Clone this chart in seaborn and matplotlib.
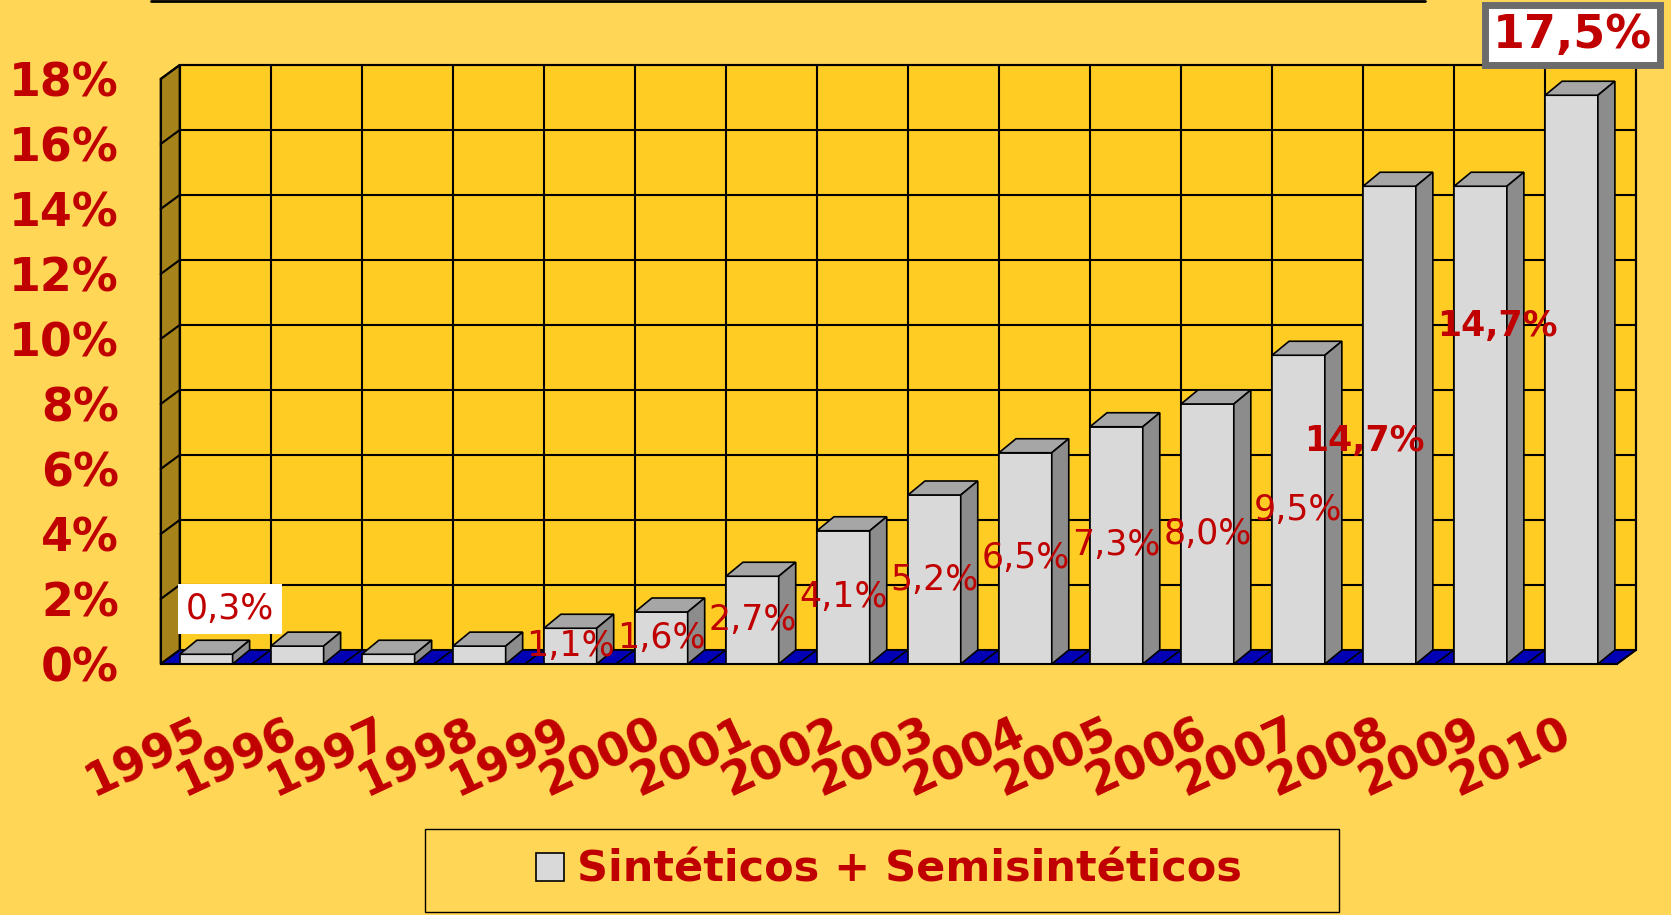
"""Share of synthetic + semi-synthetic, 1995-2010, drawn as an Excel-like 3D bar chart."""

import matplotlib
matplotlib.use("Agg")
import matplotlib.pyplot as plt
import matplotlib.transforms as mtransforms
from matplotlib.patches import Polygon, Rectangle
from matplotlib.lines import Line2D
import numpy as np
import pandas as pd
import seaborn as sns

# data
years = ["1995", "1996", "1997", "1998", "1999", "2000", "2001", "2002",
         "2003", "2004", "2005", "2006", "2007", "2008", "2009", "2010"]
share = [0.3, 0.55, 0.3, 0.55, 1.1, 1.6, 2.7, 4.1,
         5.2, 6.5, 7.3, 8.0, 9.5, 14.7, 14.7, 17.5]
series_name = "Sintéticos + Semisintéticos"
# data labels that are visible in the original (some were hidden)
shown_labels = ["1995", "1999", "2000", "2001", "2002", "2003", "2004",
                "2005", "2006", "2007", "2008", "2009", "2010"]
y_ticks = [0, 2, 4, 6, 8, 10, 12, 14, 16, 18]

# colours
BG = "#FFD655"
WALL = "#FFCC24"
SIDE_WALL = "#A6821A"
FLOOR = "#0000B4"
BAR_FRONT = "#D9D9D9"
BAR_TOP = "#A6A6A6"
BAR_SIDE = "#8C8C8C"
RED = "#C00000"

W_PX, H_PX = 1671, 915
DPI = 100

sns.set_style("white")
plt.rcParams["font.family"] = ["DejaVu Sans"]

df = pd.DataFrame({"year": years, "share": share})

fig = plt.figure(figsize=(W_PX / DPI, H_PX / DPI), dpi=DPI, facecolor=BG)
# front frame of the 3D box (pixels measured on the reference)
left, right, top, bottom = 160.7, 1617.0, 79.0, 664.0
ax = fig.add_axes([left / W_PX, 1 - bottom / H_PX,
                   (right - left) / W_PX, (bottom - top) / H_PX])
ax.set_facecolor("none")

sns.barplot(data=df, x="year", y="share", color=BAR_FRONT, edgecolor="black",
            linewidth=1.2, width=0.58, errorbar=None, label=series_name,
            saturation=1, ax=ax, zorder=2)
handles, labels = ax.get_legend_handles_labels()
if ax.get_legend() is not None:
    ax.get_legend().remove()

n = len(years)
ax.set_xlim(-0.5, n - 0.5)
ax.set_ylim(0, 18)

# pixel -> data conversion for the depth of the 3D box
px_x = (right - left) / n
px_y = (bottom - top) / 18
wdx, wdy = 19 / px_x, 14 / px_y     # walls
bdx, bdy = 17 / px_x, 14 / px_y     # bars

x0, x1 = -0.5, n - 0.5
# back wall
ax.add_patch(Polygon([(x0 + wdx, wdy), (x1 + wdx, wdy), (x1 + wdx, 18 + wdy),
                      (x0 + wdx, 18 + wdy)], closed=True, fc=WALL, ec="black",
                     lw=1.5, clip_on=False, zorder=0.1))
# left side wall
ax.add_patch(Polygon([(x0, 0), (x0 + wdx, wdy), (x0 + wdx, 18 + wdy), (x0, 18)],
                     closed=True, fc=SIDE_WALL, ec="black", lw=1.5,
                     clip_on=False, zorder=0.2))
# gridlines on the walls
for t in y_ticks[1:]:
    ax.add_line(Line2D([x0 + wdx, x1 + wdx], [t + wdy, t + wdy], color="black",
                       lw=1.5, clip_on=False, zorder=0.3))
    ax.add_line(Line2D([x0, x0 + wdx], [t, t + wdy], color="black",
                       lw=1.5, clip_on=False, zorder=0.3))
for b in np.arange(x0, x1 + 0.5, 1):
    ax.add_line(Line2D([b + wdx, b + wdx], [wdy, 18 + wdy], color="black",
                       lw=1.5, clip_on=False, zorder=0.3))
# floor
ax.add_patch(Polygon([(x0, 0), (x1, 0), (x1 + wdx, wdy), (x0 + wdx, wdy)],
                     closed=True, fc=FLOOR, ec="black", lw=1.2,
                     clip_on=False, zorder=0.4))
for b in np.arange(x0, x1 + 0.5, 1):
    ax.add_line(Line2D([b, b + wdx], [0, wdy], color="black", lw=1.2,
                       clip_on=False, zorder=0.45))

# top and side faces of each bar
for bar in ax.containers[0]:
    bx, bw, bh = bar.get_x(), bar.get_width(), bar.get_height()
    ax.add_patch(Polygon([(bx, bh), (bx + bdx, bh + bdy), (bx + bw + bdx, bh + bdy),
                          (bx + bw, bh)], closed=True, fc=BAR_TOP, ec="black",
                         lw=1.2, clip_on=False, zorder=2.1))
    ax.add_patch(Polygon([(bx + bw, 0), (bx + bw + bdx, bdy), (bx + bw + bdx, bh + bdy),
                          (bx + bw, bh)], closed=True, fc=BAR_SIDE, ec="black",
                         lw=1.2, clip_on=False, zorder=2.1))

# axes, ticks
for side in ["top", "right"]:
    ax.spines[side].set_visible(False)
for side in ["left", "bottom"]:
    ax.spines[side].set_color("black")
    ax.spines[side].set_linewidth(1.5)
    ax.spines[side].set_zorder(3)

ax.set_yticks(y_ticks)
ax.set_yticklabels([f"{t}%" for t in y_ticks], fontweight="bold")
ax.tick_params(axis="y", length=10, width=1.5, pad=20, labelsize=33,
               labelcolor=RED, color="black", direction="out")

ax.set_xticks(range(n))
ax.set_xticklabels(years, rotation=25, ha="right", va="top",
                   rotation_mode="anchor", fontweight="bold")
ax.set_xticks(np.arange(x0, x1 + 0.5, 1), minor=True)
ax.tick_params(axis="x", which="major", length=0, pad=34, labelsize=33,
               labelcolor=RED)
ax.tick_params(axis="x", which="minor", length=10, width=1.5, color="black",
               direction="out")
shift = mtransforms.ScaledTranslation(-12 / DPI, 0, fig.dpi_scale_trans)
for lab in ax.get_xticklabels():
    lab.set_transform(lab.get_transform() + shift)
ax.set_xlabel("")
ax.set_ylabel("")

# data labels (some were dragged around in the original)
moved = {"1995": (0.26, 1.69), "2008": (12.72, 6.86),
         "2009": (14.19, 10.4), "2010": (15.01, 19.35)}
for i, (yr, v) in enumerate(zip(years, share)):
    if yr not in shown_labels:
        continue
    txt = f"{v:.1f}".replace(".", ",") + "%"
    lx, ly = moved.get(yr, (i, v / 2))
    kw = dict(ha="center", va="center", color=RED, fontsize=25, zorder=5,
              clip_on=False)
    if yr == "1995":
        kw["bbox"] = dict(boxstyle="square,pad=0.22", fc="white", ec="none")
    elif yr == "2010":
        kw.update(fontsize=33, fontweight="bold",
                  bbox=dict(boxstyle="square,pad=0.17", fc="white",
                            ec="#6B6B6B", lw=5))
    elif yr in ("2008", "2009"):
        kw.update(fontsize=25, fontweight="bold")
    ax.text(lx, ly, txt, **kw)

# legend with its own box
fig.legend(handles, labels, loc="center",
           bbox_to_anchor=(889 / W_PX, 1 - 870 / H_PX), frameon=False,
           prop=dict(size=31, weight="bold"), labelcolor=RED,
           handlelength=0.65, handleheight=0.65, handletextpad=0.3)
fig.add_artist(Rectangle((425 / W_PX, 3 / H_PX), 914 / W_PX, 83 / H_PX,
                         transform=fig.transFigure, fill=False, ec="black", lw=1))

# bottom edge of the (cropped) title box
fig.add_artist(Line2D([151 / W_PX, 1425 / W_PX], [1 - 1.2 / H_PX] * 2,
                      transform=fig.transFigure, color="black", lw=2))

fig.savefig("out.png", dpi=DPI, facecolor=BG)
plt.close(fig)
